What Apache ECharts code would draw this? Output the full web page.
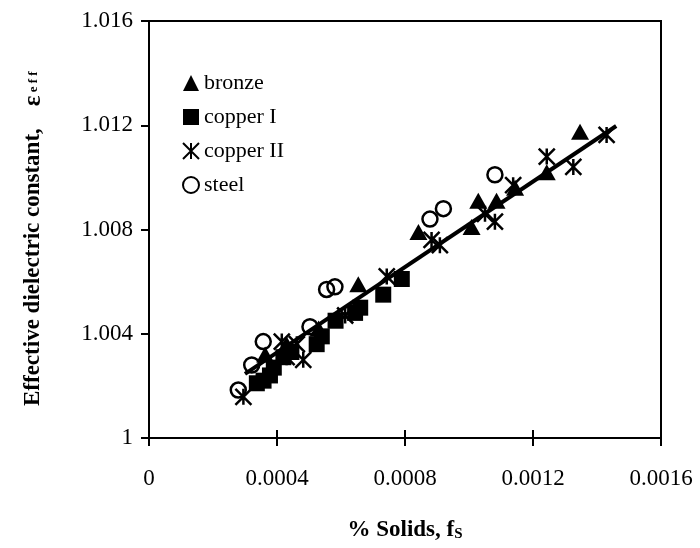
<!DOCTYPE html>
<html><head><meta charset="utf-8">
<script src="https://cdn.jsdelivr.net/npm/echarts@6/dist/echarts.min.js"></script>
<style>html,body{margin:0;padding:0;background:#fff}#c{width:700px;height:548px}</style>
</head><body><div id="c"></div>
<script>
var xTicks = ['0','0.0004','0.0008','0.0012','0.0016'];
var yTicks = ['1','1.004','1.008','1.012','1.016'];
var seriesNames = ['bronze','copper I','copper II','steel'];
var bronze = [[0.000363,1.0032],[0.00043,1.0036],[0.00053,1.0042],[0.000654,1.0059],[0.000842,1.0079],[0.001008,1.0081],[0.001029,1.0091],[0.001086,1.0091],[0.001144,1.0096],[0.001243,1.0102],[0.001347,1.01175]];
var copper1 = [[0.000337,1.0021],[0.000358,1.0022],[0.000378,1.0024],[0.00039,1.0027],[0.00042,1.0031],[0.000445,1.0033],[0.000524,1.0036],[0.00054,1.0039],[0.000583,1.0045],[0.000644,1.0048],[0.00066,1.005],[0.000732,1.0055],[0.00079,1.0061]];
var copper2 = [[0.000295,1.00158],[0.000415,1.0037],[0.00043,1.0031],[0.000462,1.0036],[0.000482,1.0030],[0.000613,1.0047],[0.000743,1.0062],[0.000883,1.0076],[0.000909,1.0074],[0.00105,1.0086],[0.001081,1.0083],[0.001138,1.0097],[0.001243,1.0108],[0.001326,1.0104],[0.00143,1.01163]];
var steel = [[0.000279,1.00184],[0.000321,1.0028],[0.000357,1.0037],[0.000503,1.00427],[0.000555,1.0057],[0.000581,1.0058],[0.000878,1.0084],[0.00092,1.0088],[0.001081,1.0101]];
var fitLine = [[0.0003,1.00246],[0.00146,1.01197]];

var FONT = 'Liberation Serif';
var star = 'path://M0,0L10,10M10,0L0,10M5,0L5,10';
var chart = echarts.init(document.getElementById('c'), null, {renderer:'canvas'});
function lab(arr, base, step){ return function(v){ var i = Math.round((v - base) / step); return arr[i] !== undefined ? arr[i] : ''; }; }
var option = {
  animation:false,
  backgroundColor:'#fff',
  grid:{left:149,right:39,top:21,bottom:110,show:true,borderColor:'#000',borderWidth:2,backgroundColor:'transparent'},
  xAxis:[{
    type:'value',min:0,max:0.0016,interval:0.0004,
    axisLine:{show:true,lineStyle:{color:'#000',width:2}},
    axisTick:{show:true,inside:false,length:8,lineStyle:{color:'#000',width:2}},
    axisLabel:{formatter:lab(xTicks,0,0.0004),fontFamily:FONT,fontSize:23,color:'#000',margin:29},
    splitLine:{show:false}
  },{
    type:'value',min:0,max:0.0016,interval:0.0004,position:'bottom',
    axisLine:{show:false},
    axisTick:{show:true,inside:true,length:8,lineStyle:{color:'#000',width:2}},
    axisLabel:{show:false},splitLine:{show:false}
  }],
  yAxis:{
    type:'value',min:1,max:1.016,interval:0.004,
    axisLine:{show:true,lineStyle:{color:'#000',width:2}},
    axisTick:{show:true,inside:false,length:8,lineStyle:{color:'#000',width:2}},
    axisLabel:{formatter:lab(yTicks,1,0.004),fontFamily:FONT,fontSize:23,color:'#000',margin:16},
    splitLine:{show:false}
  },
  legend:{
    orient:'vertical',left:177,top:67,itemWidth:16,itemHeight:16,itemGap:12,
    data:seriesNames,
    textStyle:{fontFamily:FONT,fontSize:22,color:'#000'}
  },
  graphic:[
    {type:'text',x:405,y:518,style:{
      text:'{a|% Solids, f}{b|S}',textAlign:'center',
      rich:{a:{fontFamily:FONT,fontWeight:'bold',fontSize:23,fill:'#000'},b:{fontFamily:FONT,fontWeight:'bold',fontSize:15,fill:'#000',padding:[9,0,0,0]}}
    }},
    {type:'text',x:21,y:406,rotation:Math.PI/2,style:{
      text:'{a|Effective dielectric constant,}{g| }{e|ε}{s| e f f}',
      rich:{a:{fontFamily:FONT,fontWeight:'bold',fontSize:23,fill:'#000'},g:{fontSize:22,width:22},e:{fontFamily:FONT,fontWeight:'bold',fontSize:25,fill:'#000'},s:{fontFamily:FONT,fontWeight:'bold',fontSize:13,fill:'#000'}}
    }}
  ],
  series:[
    {name:'fit',type:'line',data:fitLine,showSymbol:false,symbol:'none',lineStyle:{color:'#000',width:4},z:3,silent:true},
    {name:'bronze',type:'scatter',data:bronze,symbol:'triangle',symbolSize:[18,16],itemStyle:{color:'#000',opacity:1},z:2},
    {name:'copper I',type:'scatter',data:copper1,symbol:'rect',symbolSize:16,itemStyle:{color:'#000',opacity:1},z:2},
    {name:'copper II',type:'scatter',data:copper2,symbol:star,symbolSize:16,itemStyle:{color:'transparent',borderColor:'#000',borderWidth:2.5,opacity:1},z:4},
    {name:'steel',type:'scatter',data:steel,symbol:'circle',symbolSize:15,itemStyle:{color:'transparent',borderColor:'#000',borderWidth:2.5,opacity:1},z:4}
  ]
};
chart.setOption(option);
</script>
</body></html>
